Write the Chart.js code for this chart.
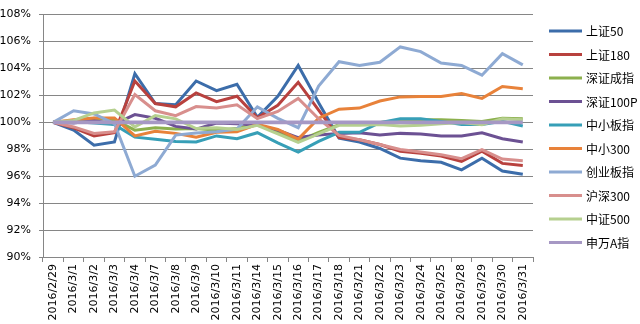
<!DOCTYPE html>
<html>
<head>
<meta charset="utf-8">
<script src="https://cdn.jsdelivr.net/npm/chart.js@4.4.1/dist/chart.umd.min.js"></script>
<style>
  html, body { margin: 0; padding: 0; background: #fff; }
  #wrap { width: 640px; height: 324px; position: relative; }
</style>
</head>
<body>
<div id="wrap"><canvas id="chart"></canvas></div>
<script>
// trading days on the x axis
const dates = ['2016/2/29', '2016/3/1', '2016/3/2', '2016/3/3', '2016/3/4', '2016/3/7', '2016/3/8',
  '2016/3/9', '2016/3/10', '2016/3/11', '2016/3/14', '2016/3/15', '2016/3/16', '2016/3/17',
  '2016/3/18', '2016/3/21', '2016/3/22', '2016/3/23', '2016/3/24', '2016/3/25', '2016/3/28',
  '2016/3/29', '2016/3/30', '2016/3/31'];

// relative index level, percent of the 2/29 close
const sz50 = [100, 99.42, 98.3, 98.54, 103.62, 101.39, 101.3, 103.07, 102.35, 102.83, 100.38, 101.94,
  104.22, 101.45, 98.83, 98.54, 98.06, 97.34, 97.15, 97.03, 96.47, 97.34, 96.38, 96.14];
const sz180 = [100, 99.59, 98.99, 99.23, 103.07, 101.4, 101.15, 102.18, 101.53, 101.94, 100.33, 101.27,
  102.97, 100.9, 98.87, 98.7, 98.35, 97.86, 97.7, 97.5, 97.1, 97.86, 96.95, 96.79];
const szcz = [100, 100.0, 100.3, 100.2, 99.42, 99.6, 99.5, 99.54, 99.42, 99.54, 99.83, 99.3,
  98.6, 99.26, 99.83, 99.88, 99.98, 100.14, 100.2, 100.2, 100.14, 100.07, 100.31, 100.26];
const sz100p = [100, 99.95, 100.14, 99.86, 100.58, 100.3, 99.7, 99.5, 99.95, 99.9, 99.78, 99.42,
  98.87, 99.06, 99.18, 99.23, 99.06, 99.18, 99.14, 98.99, 98.99, 99.23, 98.78, 98.54];
const zxbz = [100, 100.07, 99.95, 99.83, 98.9, 98.75, 98.58, 98.54, 98.99, 98.78, 99.23, 98.47,
  97.79, 98.58, 99.26, 99.26, 99.98, 100.26, 100.26, 100.07, 99.83, 99.83, 100.07, 99.73];
const zx300 = [100, 100.19, 100.33, 100.33, 98.99, 99.33, 99.18, 98.9, 99.26, 99.3, 99.86, 99.47,
  98.75, 100.31, 100.98, 101.06, 101.58, 101.89, 101.92, 101.92, 102.14, 101.78, 102.66, 102.5];
const cybz = [100, 100.86, 100.62, 99.9, 96.0, 96.83, 99.05, 99.2, 99.3, 99.5, 101.15, 100.3,
  99.6, 102.7, 104.5, 104.22, 104.46, 105.6, 105.25, 104.41, 104.22, 103.5, 105.1, 104.27];
const hs300 = [100, 99.66, 99.18, 99.3, 102.06, 100.86, 100.5, 101.17, 101.06, 101.3, 100.27, 100.81,
  101.78, 100.27, 99.03, 98.7, 98.35, 97.98, 97.8, 97.6, 97.3, 97.98, 97.27, 97.15];
const zz500 = [100, 100.14, 100.7, 100.91, 99.66, 100.5, 100.26, 99.54, 99.59, 99.47, 99.78, 99.14,
  98.51, 99.14, 99.78, 99.78, 99.83, 99.73, 99.78, 99.9, 99.98, 99.83, 100.26, 100.2];
const swA = [100, 100, 100, 100, 100, 100, 100, 100, 100, 100, 100, 100,
  100, 100, 100, 100, 100, 100, 100, 100, 100, 100, 100, 100];

const seriesNames = ['上证50', '上证180', '深证成指', '深证100P', '中小板指', '中小300', '创业板指', '沪深300', '中证500', '申万A指'];
const seriesData = [sz50, sz180, szcz, sz100p, zxbz, zx300, cybz, hs300, zz500, swA];
const seriesColors = ['#3c6daa', '#b8413e', '#8cb04d', '#6c5193', '#379fb7', '#e8823a',
  '#8eaad3', '#d88f8d', '#b6d08f', '#a698c4'];
const seriesWidths = [3, 3, 3, 3, 3, 3, 3, 3, 3, 3.6];

const yTicks = [90, 92, 94, 96, 98, 100, 102, 104, 106, 108];

// legend drawn at the right, like the excel original
const sideLegend = {
  id: 'sideLegend',
  afterDraw(chart) {
    const ctx = chart.ctx;
    const x0 = 549, y0 = 31, step = 23.5;
    ctx.save();
    ctx.font = '12px "Noto Sans CJK SC"';
    ctx.textBaseline = 'middle';
    chart.data.datasets.forEach((ds, i) => {
      const y = y0 + i * step;
      ctx.strokeStyle = ds.borderColor;
      ctx.lineWidth = 3;
      ctx.beginPath();
      ctx.moveTo(x0, y);
      ctx.lineTo(x0 + 33, y);
      ctx.stroke();
      ctx.fillStyle = '#000';
      ctx.fillText(ds.label, x0 + 37, y + 0.5);
    });
    ctx.restore();
  }
};

const n = seriesNames.length;
const datasets = seriesNames.map((name, i) => ({
  label: name,
  data: seriesData[i],
  borderColor: seriesColors[i],
  backgroundColor: seriesColors[i],
  borderWidth: seriesWidths[i],
  pointRadius: 0,
  tension: 0,
  order: n - 1 - i
}));

new Chart(document.getElementById('chart'), {
  type: 'line',
  data: { labels: dates, datasets: datasets },
  options: {
    responsive: true,
    maintainAspectRatio: false,
    animation: false,
    layout: { padding: { left: 0, right: 107, top: 6, bottom: 0 } },
    plugins: {
      legend: { display: false },
      tooltip: { enabled: false }
    },
    scales: {
      x: {
        offset: true,
        grid: { display: true, drawOnChartArea: false, offset: true, tickLength: 5, color: '#868686' },
        border: { color: '#868686' },
        ticks: {
          autoSkip: false,
          minRotation: 90,
          maxRotation: 90,
          padding: 2,
          color: '#000',
          font: { family: 'DejaVu Sans', size: 11 }
        },
        afterFit(scale) { scale.height = 67; }
      },
      y: {
        min: 90,
        max: 108,
        afterBuildTicks(scale) { scale.ticks = yTicks.map(v => ({ value: v })); },
        grid: { color: '#868686', tickLength: 4 },
        border: { color: '#868686' },
        ticks: {
          padding: 8,
          color: '#000',
          font: { family: 'DejaVu Sans', size: 11 },
          callback: v => v + '%'
        },
        afterFit(scale) { scale.width = 43; }
      }
    }
  },
  plugins: [sideLegend]
});
</script>
</body>
</html>
